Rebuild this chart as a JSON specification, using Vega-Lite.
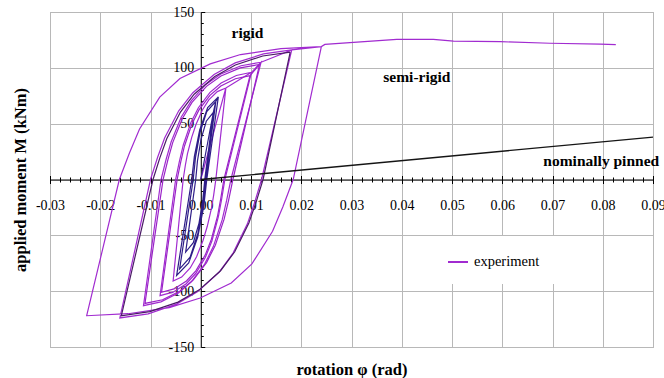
{
  "$schema": "https://vega.github.io/schema/vega-lite/v6.json",
  "width": 603,
  "height": 335,
  "autosize": {"type": "none"},
  "padding": {"left": 50, "top": 12, "right": 11, "bottom": 31},
  "background": "white",
  "config": {
    "view": {"stroke": "#a3a3a3", "strokeWidth": 1},
    "font": "Liberation Serif",
    "axis": {"labelFont": "Liberation Serif", "titleFont": "Liberation Serif"}
  },
  "resolve": {"axis": {"x": "independent", "y": "independent"}},
  "layer": [
    {
      "data": {"values": [
        {"s":"experiment","i":0,"phi":0,"M":0},
        {"s":"experiment","i":1,"phi":0.005,"M":82},
        {"s":"experiment","i":2,"phi":0.003,"M":0},
        {"s":"experiment","i":3,"phi":0.00258,"M":-13.7},
        {"s":"experiment","i":4,"phi":0.00215,"M":-25.5},
        {"s":"experiment","i":5,"phi":0.0013,"M":-41.9},
        {"s":"experiment","i":6,"phi":0.00045,"M":-54.6},
        {"s":"experiment","i":7,"phi":-0.00083,"M":-69.2},
        {"s":"experiment","i":8,"phi":-0.0021,"M":-79.2},
        {"s":"experiment","i":9,"phi":-0.0038,"M":-87.4},
        {"s":"experiment","i":10,"phi":-0.0055,"M":-91},
        {"s":"experiment","i":11,"phi":-0.0035,"M":0},
        {"s":"experiment","i":12,"phi":-0.00308,"M":12.3},
        {"s":"experiment","i":13,"phi":-0.00265,"M":23},
        {"s":"experiment","i":14,"phi":-0.0018,"M":37.7},
        {"s":"experiment","i":15,"phi":-0.00095,"M":49.2},
        {"s":"experiment","i":16,"phi":0.00033,"M":62.3},
        {"s":"experiment","i":17,"phi":0.0016,"M":71.3},
        {"s":"experiment","i":18,"phi":0.0033,"M":78.7},
        {"s":"experiment","i":19,"phi":0.005,"M":82},
        {"s":"experiment","i":20,"phi":0.0101,"M":96},
        {"s":"experiment","i":21,"phi":0.0048,"M":0},
        {"s":"experiment","i":22,"phi":0.00416,"M":-17.7},
        {"s":"experiment","i":23,"phi":0.00351,"M":-33.3},
        {"s":"experiment","i":24,"phi":0.00222,"M":-55.1},
        {"s":"experiment","i":25,"phi":0.00093,"M":-69.7},
        {"s":"experiment","i":26,"phi":-0.00101,"M":-84.2},
        {"s":"experiment","i":27,"phi":-0.00294,"M":-93.6},
        {"s":"experiment","i":28,"phi":-0.00552,"M":-100.9},
        {"s":"experiment","i":29,"phi":-0.0081,"M":-104},
        {"s":"experiment","i":30,"phi":-0.005,"M":0},
        {"s":"experiment","i":31,"phi":-0.00425,"M":16.3},
        {"s":"experiment","i":32,"phi":-0.00349,"M":30.7},
        {"s":"experiment","i":33,"phi":-0.00198,"M":50.9},
        {"s":"experiment","i":34,"phi":-0.00047,"M":64.3},
        {"s":"experiment","i":35,"phi":0.0018,"M":77.8},
        {"s":"experiment","i":36,"phi":0.00406,"M":86.4},
        {"s":"experiment","i":37,"phi":0.00708,"M":93.1},
        {"s":"experiment","i":38,"phi":0.0101,"M":96},
        {"s":"experiment","i":39,"phi":0.012,"M":105},
        {"s":"experiment","i":40,"phi":0.006,"M":0},
        {"s":"experiment","i":41,"phi":0.00513,"M":-19.2},
        {"s":"experiment","i":42,"phi":0.00426,"M":-36.2},
        {"s":"experiment","i":43,"phi":0.00252,"M":-59.9},
        {"s":"experiment","i":44,"phi":0.00078,"M":-75.7},
        {"s":"experiment","i":45,"phi":-0.00183,"M":-91.5},
        {"s":"experiment","i":46,"phi":-0.00444,"M":-101.7},
        {"s":"experiment","i":47,"phi":-0.00792,"M":-109.6},
        {"s":"experiment","i":48,"phi":-0.0114,"M":-113},
        {"s":"experiment","i":49,"phi":-0.0079,"M":0},
        {"s":"experiment","i":50,"phi":-0.0069,"M":17.9},
        {"s":"experiment","i":51,"phi":-0.0059,"M":33.6},
        {"s":"experiment","i":52,"phi":-0.0039,"M":55.7},
        {"s":"experiment","i":53,"phi":-0.0019,"M":70.4},
        {"s":"experiment","i":54,"phi":0.001,"M":85.1},
        {"s":"experiment","i":55,"phi":0.004,"M":94.5},
        {"s":"experiment","i":56,"phi":0.008,"M":101.9},
        {"s":"experiment","i":57,"phi":0.012,"M":105},
        {"s":"experiment","i":58,"phi":0.0181,"M":116},
        {"s":"experiment","i":59,"phi":0.0121,"M":0},
        {"s":"experiment","i":60,"phi":0.01069,"M":-21.1},
        {"s":"experiment","i":61,"phi":0.00928,"M":-39.7},
        {"s":"experiment","i":62,"phi":0.00646,"M":-65.7},
        {"s":"experiment","i":63,"phi":0.00364,"M":-83.1},
        {"s":"experiment","i":64,"phi":-0.00059,"M":-100.4},
        {"s":"experiment","i":65,"phi":-0.00482,"M":-111.6},
        {"s":"experiment","i":66,"phi":-0.01046,"M":-120.3},
        {"s":"experiment","i":67,"phi":-0.0161,"M":-124},
        {"s":"experiment","i":68,"phi":-0.01,"M":0},
        {"s":"experiment","i":69,"phi":-0.0086,"M":19.7},
        {"s":"experiment","i":70,"phi":-0.00719,"M":37.1},
        {"s":"experiment","i":71,"phi":-0.00438,"M":61.5},
        {"s":"experiment","i":72,"phi":-0.00157,"M":77.7},
        {"s":"experiment","i":73,"phi":0.00265,"M":94},
        {"s":"experiment","i":74,"phi":0.00686,"M":104.4},
        {"s":"experiment","i":75,"phi":0.01248,"M":112.5},
        {"s":"experiment","i":76,"phi":0.0181,"M":116},
        {"s":"experiment","i":77,"phi":0.024,"M":119},
        {"s":"experiment","i":78,"phi":0.0184,"M":0},
        {"s":"experiment","i":79,"phi":0.01635,"M":-24.4},
        {"s":"experiment","i":80,"phi":0.01429,"M":-46.4},
        {"s":"experiment","i":81,"phi":0.01018,"M":-75.6},
        {"s":"experiment","i":82,"phi":0.00607,"M":-92.7},
        {"s":"experiment","i":83,"phi":-0.0001,"M":-106.1},
        {"s":"experiment","i":84,"phi":-0.00626,"M":-114.7},
        {"s":"experiment","i":85,"phi":-0.01448,"M":-120.2},
        {"s":"experiment","i":86,"phi":-0.0227,"M":-122},
        {"s":"experiment","i":87,"phi":-0.0162,"M":0},
        {"s":"experiment","i":88,"phi":-0.01419,"M":23.8},
        {"s":"experiment","i":89,"phi":-0.01218,"M":45.2},
        {"s":"experiment","i":90,"phi":-0.00816,"M":73.8},
        {"s":"experiment","i":91,"phi":-0.00414,"M":90.4},
        {"s":"experiment","i":92,"phi":0.00189,"M":103.5},
        {"s":"experiment","i":93,"phi":0.00792,"M":111.9},
        {"s":"experiment","i":94,"phi":0.01596,"M":117.2},
        {"s":"experiment","i":95,"phi":0.024,"M":119},
        {"s":"experiment","i":96,"phi":0.0247,"M":121},
        {"s":"experiment","i":97,"phi":0.0304,"M":122.8},
        {"s":"experiment","i":98,"phi":0.039,"M":125.5},
        {"s":"experiment","i":99,"phi":0.0463,"M":125.5},
        {"s":"experiment","i":100,"phi":0.0503,"M":124},
        {"s":"experiment","i":101,"phi":0.0596,"M":123.4},
        {"s":"experiment","i":102,"phi":0.0695,"M":122},
        {"s":"experiment","i":103,"phi":0.0795,"M":121.3},
        {"s":"experiment","i":104,"phi":0.0826,"M":120.7},
        {"s":"exp2","i":0,"phi":0.0098,"M":93},
        {"s":"exp2","i":1,"phi":0.0046,"M":0},
        {"s":"exp2","i":2,"phi":0.00398,"M":-17.2},
        {"s":"exp2","i":3,"phi":0.00336,"M":-32.3},
        {"s":"exp2","i":4,"phi":0.00212,"M":-53.5},
        {"s":"exp2","i":5,"phi":0.00088,"M":-67.7},
        {"s":"exp2","i":6,"phi":-0.00098,"M":-81.8},
        {"s":"exp2","i":7,"phi":-0.00284,"M":-90.9},
        {"s":"exp2","i":8,"phi":-0.00532,"M":-98},
        {"s":"exp2","i":9,"phi":-0.0078,"M":-101},
        {"s":"exp2","i":10,"phi":-0.0047,"M":0},
        {"s":"exp2","i":11,"phi":-0.00398,"M":15.8},
        {"s":"exp2","i":12,"phi":-0.00325,"M":29.8},
        {"s":"exp2","i":13,"phi":-0.0018,"M":49.3},
        {"s":"exp2","i":14,"phi":-0.00035,"M":62.3},
        {"s":"exp2","i":15,"phi":0.00183,"M":75.3},
        {"s":"exp2","i":16,"phi":0.004,"M":83.7},
        {"s":"exp2","i":17,"phi":0.0069,"M":90.2},
        {"s":"exp2","i":18,"phi":0.0098,"M":93},
        {"s":"exp2","i":19,"phi":0.0117,"M":103},
        {"s":"exp2","i":20,"phi":0.0064,"M":0},
        {"s":"exp2","i":21,"phi":0.00553,"M":-18.9},
        {"s":"exp2","i":22,"phi":0.00465,"M":-35.5},
        {"s":"exp2","i":23,"phi":0.0029,"M":-58.8},
        {"s":"exp2","i":24,"phi":0.00115,"M":-74.4},
        {"s":"exp2","i":25,"phi":-0.00148,"M":-89.9},
        {"s":"exp2","i":26,"phi":-0.0041,"M":-99.9},
        {"s":"exp2","i":27,"phi":-0.0076,"M":-107.7},
        {"s":"exp2","i":28,"phi":-0.0111,"M":-111},
        {"s":"exp2","i":29,"phi":-0.0075,"M":0},
        {"s":"exp2","i":30,"phi":-0.00654,"M":17.5},
        {"s":"exp2","i":31,"phi":-0.00558,"M":33},
        {"s":"exp2","i":32,"phi":-0.00366,"M":54.6},
        {"s":"exp2","i":33,"phi":-0.00174,"M":69},
        {"s":"exp2","i":34,"phi":0.00114,"M":83.4},
        {"s":"exp2","i":35,"phi":0.00402,"M":92.7},
        {"s":"exp2","i":36,"phi":0.00786,"M":99.9},
        {"s":"exp2","i":37,"phi":0.0117,"M":103},
        {"s":"core","i":0,"phi":0,"M":0},
        {"s":"core","i":1,"phi":0.0025,"M":60},
        {"s":"core","i":2,"phi":0.0008,"M":0},
        {"s":"core","i":3,"phi":0.00042,"M":-18.2},
        {"s":"core","i":4,"phi":-0.00034,"M":-39},
        {"s":"core","i":5,"phi":-0.00148,"M":-56.6},
        {"s":"core","i":6,"phi":-0.003,"M":-65},
        {"s":"core","i":7,"phi":-0.001,"M":0},
        {"s":"core","i":8,"phi":-0.00065,"M":16.8},
        {"s":"core","i":9,"phi":0.00005,"M":36},
        {"s":"core","i":10,"phi":0.0011,"M":52.2},
        {"s":"core","i":11,"phi":0.0025,"M":60},
        {"s":"core","i":12,"phi":0.003,"M":70},
        {"s":"core","i":13,"phi":0.001,"M":0},
        {"s":"core","i":14,"phi":0.00048,"M":-22.4},
        {"s":"core","i":15,"phi":-0.00056,"M":-48},
        {"s":"core","i":16,"phi":-0.00212,"M":-69.6},
        {"s":"core","i":17,"phi":-0.0042,"M":-80},
        {"s":"core","i":18,"phi":-0.0015,"M":0},
        {"s":"core","i":19,"phi":-0.00105,"M":19.6},
        {"s":"core","i":20,"phi":-0.00015,"M":42},
        {"s":"core","i":21,"phi":0.0012,"M":60.9},
        {"s":"core","i":22,"phi":0.003,"M":70},
        {"s":"core","i":23,"phi":0.0035,"M":74},
        {"s":"core","i":24,"phi":0.0012,"M":0},
        {"s":"core","i":25,"phi":0.0006,"M":-24.1},
        {"s":"core","i":26,"phi":-0.0006,"M":-51.6},
        {"s":"core","i":27,"phi":-0.0024,"M":-74.8},
        {"s":"core","i":28,"phi":-0.0048,"M":-86},
        {"s":"core","i":29,"phi":-0.0018,"M":0},
        {"s":"core","i":30,"phi":-0.00127,"M":20.7},
        {"s":"core","i":31,"phi":-0.00021,"M":44.4},
        {"s":"core","i":32,"phi":0.00138,"M":64.4},
        {"s":"core","i":33,"phi":0.0035,"M":74},
        {"s":"cycle","i":0,"phi":0.0178,"M":114},
        {"s":"cycle","i":1,"phi":0.0124,"M":0},
        {"s":"cycle","i":2,"phi":0.01099,"M":-20.7},
        {"s":"cycle","i":3,"phi":0.00958,"M":-39},
        {"s":"cycle","i":4,"phi":0.00676,"M":-64.7},
        {"s":"cycle","i":5,"phi":0.00394,"M":-81.7},
        {"s":"cycle","i":6,"phi":-0.00029,"M":-98.8},
        {"s":"cycle","i":7,"phi":-0.00452,"M":-109.8},
        {"s":"cycle","i":8,"phi":-0.01016,"M":-118.3},
        {"s":"cycle","i":9,"phi":-0.0158,"M":-122},
        {"s":"cycle","i":10,"phi":-0.0095,"M":0},
        {"s":"cycle","i":11,"phi":-0.00814,"M":19.4},
        {"s":"cycle","i":12,"phi":-0.00677,"M":36.5},
        {"s":"cycle","i":13,"phi":-0.00404,"M":60.4},
        {"s":"cycle","i":14,"phi":-0.00131,"M":76.4},
        {"s":"cycle","i":15,"phi":0.00279,"M":92.3},
        {"s":"cycle","i":16,"phi":0.00688,"M":102.6},
        {"s":"cycle","i":17,"phi":0.01234,"M":110.6},
        {"s":"cycle","i":18,"phi":0.0178,"M":114}
      ]},
      "mark": {"type": "line", "strokeWidth": 1.2},
      "encoding": {
        "x": {
          "field": "phi", "type": "quantitative",
          "scale": {"domain": [-0.03, 0.09], "nice": false, "zero": false},
          "axis": {
            "orient": "bottom", "offset": -167.5, "title": null,
            "values": [-0.03, -0.02, -0.01, 0, 0.01, 0.02, 0.03, 0.04, 0.05, 0.06, 0.07, 0.08, 0.09],
            "labelExpr": "replace(format(datum.value, '.2f'), '−', '-')",
            "labelFontSize": 14, "labelColor": "black", "labelPadding": 14.5,
            "labelFlush": false, "labelOverlap": false, "labelBound": false,
            "tickSize": 4, "tickColor": "black", "domainColor": "black",
            "grid": true, "gridColor": "#b8b8b8", "gridWidth": 1
          }
        },
        "y": {
          "field": "M", "type": "quantitative",
          "scale": {"domain": [-150, 150], "nice": false, "zero": false},
          "axis": {
            "orient": "left", "offset": -150.75, "title": null,
            "values": [-150, -100, -50, 0, 50, 100, 150],
            "labelExpr": "replace(format(datum.value, 'd'), '−', '-')",
            "labelFontSize": 14, "labelColor": "black", "labelPadding": 7,
            "labelFlush": false, "labelOverlap": false, "labelBound": false,
            "ticks": false, "domainColor": "black",
            "grid": true, "gridColor": "#b8b8b8", "gridWidth": 1
          }
        },
        "color": {
          "field": "s", "type": "nominal",
          "scale": {"domain": ["experiment", "exp2", "core", "cycle"], "range": ["#a12bd0", "#9a22c8", "#2e1d88", "#4a1a66"]},
          "legend": {
            "values": ["experiment"], "title": null, "orient": "none",
            "legendX": 382, "legendY": 224, "padding": 15,
            "fillColor": "white", "symbolType": "stroke", "symbolSize": 400,
            "symbolStrokeWidth": 2, "symbolStrokeColor": "#a070b4",
            "labelFont": "Liberation Serif", "labelFontSize": 14.5, "labelColor": "black", "labelOffset": 5
          }
        },
        "order": {"field": "i", "type": "quantitative"}
      }
    },
    {
      "data": {"values": [{"phi": 0, "M": 0}, {"phi": 0.09, "M": 38}]},
      "mark": {"type": "line", "color": "#151515", "strokeWidth": 1.3},
      "encoding": {
        "x": {"field": "phi", "type": "quantitative",
          "axis": {"orient": "bottom", "offset": 0, "title": "rotation φ (rad)", "labels": false, "ticks": false, "domain": false, "grid": false,
            "titleFont": "Liberation Serif", "titleFontSize": 16.5, "titleFontWeight": "bold", "titleColor": "black", "titlePadding": 14}},
        "y": {"field": "M", "type": "quantitative",
          "axis": {"orient": "left", "offset": 0, "title": "applied moment M (kNm)", "labels": false, "ticks": false, "domain": false, "grid": false,
            "titleFont": "Liberation Serif", "titleFontSize": 16.5, "titleFontWeight": "bold", "titleColor": "black", "titlePadding": 22}}
      }
    },
    {
      "data": {"values": [{"phi": 0, "M": 0}]},
      "mark": {"type": "point", "opacity": 0},
      "encoding": {
        "x": {"field": "phi", "type": "quantitative",
          "axis": {"orient": "top", "offset": -167.5, "title": null, "labels": false, "domain": false, "grid": false,
            "values": [-0.03, -0.02, -0.01, 0, 0.01, 0.02, 0.03, 0.04, 0.05, 0.06, 0.07, 0.08, 0.09],
            "tickSize": 4, "tickColor": "black"}},
        "y": {"field": "M", "type": "quantitative",
          "axis": {"orient": "right", "offset": -452.25, "title": null, "labels": false, "domain": false, "grid": false,
            "values": [-150, -100, -50, 0, 50, 100, 150], "tickSize": 4, "tickColor": "black"}}
      }
    },
    {
      "data": {"values": [{"phi": 0, "M": 0}]},
      "mark": {"type": "point", "opacity": 0},
      "encoding": {
        "x": {"field": "phi", "type": "quantitative",
          "axis": {"orient": "bottom", "offset": -167.5, "title": null, "labels": false, "domain": false, "grid": false,
            "values": [-0.028, -0.026, -0.024, -0.022, -0.018, -0.016, -0.014, -0.012, -0.008, -0.006, -0.004, -0.002, 0.002, 0.004, 0.006, 0.008, 0.012, 0.014, 0.016, 0.018, 0.022, 0.024, 0.026, 0.028, 0.032, 0.034, 0.036, 0.038, 0.042, 0.044, 0.046, 0.048, 0.052, 0.054, 0.056, 0.058, 0.062, 0.064, 0.066, 0.068, 0.072, 0.074, 0.076, 0.078, 0.082, 0.084, 0.086, 0.088],
            "tickSize": 2.5, "tickColor": "black"}},
        "y": {"field": "M", "type": "quantitative",
          "axis": {"orient": "right", "offset": -452.25, "title": null, "labels": false, "domain": false, "grid": false,
            "values": [-140, -130, -120, -110, -90, -80, -70, -60, -40, -30, -20, -10, 10, 20, 30, 40, 60, 70, 80, 90, 110, 120, 130, 140],
            "tickSize": 2.5, "tickColor": "black"}}
      }
    },
    {
      "data": {"values": [{"phi": 0, "M": 0}]},
      "mark": {"type": "point", "opacity": 0},
      "encoding": {
        "x": {"field": "phi", "type": "quantitative",
          "axis": {"orient": "top", "offset": -167.5, "title": null, "labels": false, "domain": false, "grid": false,
            "values": [-0.028, -0.026, -0.024, -0.022, -0.018, -0.016, -0.014, -0.012, -0.008, -0.006, -0.004, -0.002, 0.002, 0.004, 0.006, 0.008, 0.012, 0.014, 0.016, 0.018, 0.022, 0.024, 0.026, 0.028, 0.032, 0.034, 0.036, 0.038, 0.042, 0.044, 0.046, 0.048, 0.052, 0.054, 0.056, 0.058, 0.062, 0.064, 0.066, 0.068, 0.072, 0.074, 0.076, 0.078, 0.082, 0.084, 0.086, 0.088],
            "tickSize": 2.5, "tickColor": "black"}},
        "y": {"field": "M", "type": "quantitative", "axis": null}
      }
    },
    {
      "data": {"values": [
        {"phi": 0.0093, "M": 126.5, "label": "rigid"},
        {"phi": 0.043, "M": 87.3, "label": "semi-rigid"},
        {"phi": 0.0797, "M": 12.4, "label": "nominally pinned"}
      ]},
      "mark": {"type": "text", "font": "Liberation Serif", "fontWeight": "bold", "fontSize": 15.5, "baseline": "alphabetic", "align": "center", "color": "black"},
      "encoding": {
        "x": {"field": "phi", "type": "quantitative", "axis": null},
        "y": {"field": "M", "type": "quantitative", "axis": null},
        "text": {"field": "label"}
      }
    }
  ]
}
